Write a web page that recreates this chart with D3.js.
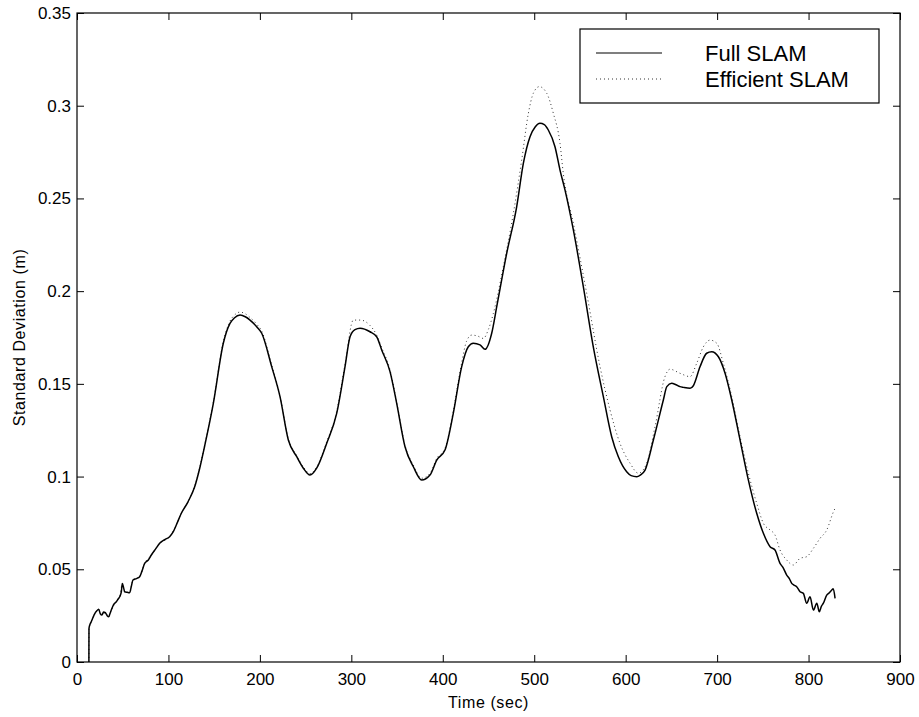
<!DOCTYPE html>
<html lang="en">
<head>
  <meta charset="UTF-8" />
  <title>Standard Deviation vs Time</title>
  <script src="https://d3js.org/d3.v7.min.js"></script>
  <style>
    body { margin: 0; background: #fff; }
    text { font-family: "Liberation Sans", Arial, Helvetica, sans-serif; fill: #000; }
  </style>
</head>
<body>
  <svg id="chart" width="919" height="717"></svg>

  <script>
    // time (sec) and standard deviation (m)
    const fullTime = [13, 13.1, 14, 15.6, 17.5, 19.3, 21.5, 23.7, 25.5, 27.3, 29, 31, 33, 34.6, 36, 37.5, 40, 43, 45, 46.7, 48.5, 49.6, 51, 52.1, 55, 57.6, 59.5, 61.2, 65, 68.5, 71, 74, 78, 81.3, 86, 90.4, 96, 101.3, 105, 108.6, 114.1, 121.4, 128.7, 134.2, 139.6, 149.1, 160, 167.3, 172, 178.3, 184, 189.2, 196.5, 202, 212.9, 222, 231.1, 240.3, 247.5, 254.8, 262.1, 273.1, 284, 293.1, 298.6, 304, 309.5, 320.4, 327.7, 333.2, 342.3, 349.6, 358.7, 367.8, 376.9, 386, 393.4, 402.4, 411.5, 420.7, 427.9, 433.4, 440.7, 446.2, 453.5, 459, 469.9, 480.8, 488.1, 495.4, 501, 506.3, 511, 515.4, 522.7, 528.2, 533.7, 542.8, 553.7, 564.6, 575.6, 584.7, 592, 601.1, 606, 612.1, 616, 621.2, 630.3, 641.2, 645, 650.3, 655, 659.4, 663.1, 670.4, 674, 681.3, 688.6, 694.1, 701.4, 708.7, 716, 725.1, 734.2, 743.3, 750.6, 757.9, 763.3, 768.8, 772, 776.1, 779, 781.6, 784, 787, 790.7, 794.3, 798, 801.6, 805.3, 809, 811.8, 814, 816.2, 819.9, 822, 825.4, 827, 829];
    const fullSlam = [0, 0.018, 0.02, 0.0217, 0.024, 0.026, 0.0275, 0.0284, 0.026, 0.0253, 0.027, 0.0266, 0.025, 0.0244, 0.026, 0.028, 0.031, 0.0325, 0.034, 0.0352, 0.038, 0.0424, 0.04, 0.0379, 0.0376, 0.0374, 0.041, 0.0442, 0.045, 0.046, 0.049, 0.0532, 0.055, 0.0577, 0.061, 0.064, 0.066, 0.0676, 0.07, 0.0739, 0.0802, 0.0864, 0.0945, 0.1045, 0.1165, 0.1395, 0.1719, 0.1826, 0.1855, 0.1871, 0.1862, 0.1844, 0.1808, 0.1773, 0.1593, 0.1431, 0.1197, 0.1107, 0.1045, 0.1008, 0.1045, 0.118, 0.1341, 0.1593, 0.1754, 0.1792, 0.18, 0.1781, 0.1754, 0.1683, 0.1566, 0.1395, 0.1161, 0.1053, 0.0981, 0.1008, 0.1089, 0.1143, 0.1341, 0.1593, 0.17, 0.1719, 0.171, 0.1686, 0.1773, 0.1916, 0.2204, 0.2455, 0.2689, 0.2833, 0.2885, 0.2905, 0.2898, 0.2869, 0.2779, 0.2653, 0.2545, 0.233, 0.2024, 0.17, 0.1431, 0.1215, 0.1107, 0.1026, 0.1005, 0.0999, 0.1008, 0.1035, 0.1197, 0.1413, 0.1485, 0.1503, 0.1495, 0.1485, 0.1481, 0.1476, 0.149, 0.1592, 0.1665, 0.1673, 0.1646, 0.1557, 0.1413, 0.1197, 0.0981, 0.0802, 0.0694, 0.0622, 0.0604, 0.0532, 0.051, 0.0469, 0.045, 0.0424, 0.0415, 0.0406, 0.0379, 0.037, 0.0317, 0.0352, 0.028, 0.0317, 0.0271, 0.03, 0.0317, 0.0361, 0.037, 0.0388, 0.0395, 0.0343];

    const effTime = [13, 13.1, 15.6, 19.3, 23.7, 27.3, 31, 34.6, 37.5, 43, 46.7, 49.6, 52.1, 57.6, 61.2, 68.5, 74, 81.3, 90.4, 101.3, 108.6, 114.1, 121.4, 128.7, 134.2, 139.6, 149.1, 160, 167.3, 172, 178.3, 184, 189.2, 196.5, 202, 212.9, 222, 231.1, 240.3, 247.5, 254.8, 262.1, 273.1, 284, 293.1, 302.2, 310, 320.4, 327.7, 333.2, 342.3, 349.6, 358.7, 367.8, 376.9, 386, 393.4, 402.4, 411.5, 420.7, 426, 431.6, 438, 444.4, 450, 455.3, 466.2, 477.2, 486.3, 493.6, 499, 505.6, 513.7, 520.9, 528.2, 531.8, 542.8, 557.4, 572, 582.9, 593.8, 604.8, 613.9, 623, 632.1, 643, 648.5, 659.4, 670.4, 677.7, 685, 692.3, 699.6, 706.8, 716, 725.1, 734.2, 743.3, 750.6, 757.9, 763.3, 768.8, 776.1, 783.4, 790.7, 798, 805.3, 812.6, 819.9, 827.2, 829];
    const efficientSlam = [0, 0.018, 0.0217, 0.026, 0.0284, 0.0253, 0.0266, 0.0244, 0.028, 0.0325, 0.0352, 0.0424, 0.0379, 0.0374, 0.0442, 0.046, 0.0532, 0.0577, 0.064, 0.0676, 0.0739, 0.0802, 0.0864, 0.0948, 0.1048, 0.117, 0.1402, 0.1728, 0.1838, 0.187, 0.1887, 0.1878, 0.1858, 0.1822, 0.1785, 0.1602, 0.1437, 0.1203, 0.1112, 0.1052, 0.1016, 0.1052, 0.1188, 0.1352, 0.1605, 0.1844, 0.1844, 0.1815, 0.1763, 0.1695, 0.1575, 0.1402, 0.1168, 0.1062, 0.0991, 0.1017, 0.1098, 0.1152, 0.1355, 0.1615, 0.173, 0.1763, 0.1758, 0.1745, 0.1795, 0.188, 0.2132, 0.242, 0.2707, 0.2959, 0.3067, 0.3103, 0.3067, 0.2959, 0.2797, 0.2635, 0.2366, 0.1988, 0.1592, 0.1359, 0.1179, 0.1072, 0.1018, 0.1072, 0.1269, 0.1539, 0.1579, 0.1557, 0.1539, 0.1611, 0.17, 0.1736, 0.1719, 0.1611, 0.1431, 0.1215, 0.1018, 0.0856, 0.0748, 0.0712, 0.0685, 0.0604, 0.055, 0.0523, 0.0559, 0.0568, 0.0613, 0.0667, 0.0712, 0.081, 0.0829];

    const xTicks = [0, 100, 200, 300, 400, 500, 600, 700, 800, 900];
    const yTicks = [0, 0.05, 0.1, 0.15, 0.2, 0.25, 0.3, 0.35];
    const yTickLabels = ["0", "0.05", "0.1", "0.15", "0.2", "0.25", "0.3", "0.35"];
    const seriesNames = ["Full SLAM", "Efficient SLAM"];

    const margin = { left: 77, top: 13, right: 19, bottom: 55 };
    const svg = d3.select("#chart"),
      width = +svg.attr("width") - margin.left - margin.right,
      height = +svg.attr("height") - margin.top - margin.bottom;

    const g = svg.append("g").attr("transform", `translate(${margin.left},${margin.top})`);

    const x = d3.scaleLinear().domain([0, 900]).range([0, width]);
    const y = d3.scaleLinear().domain([0, 0.35]).range([height, 0]);

    // ticks point inwards on all four sides
    const tickLen = 7;
    const styleAxis = (sel) => {
      sel.select(".domain").remove();
      sel.selectAll(".tick line").attr("stroke", "#000").attr("stroke-width", 1);
      sel.selectAll(".tick text").style("font-size", "17px").attr("fill", "#000");
    };

    g.append("g")
      .attr("transform", `translate(0,${height})`)
      .call(d3.axisBottom(x).tickValues(xTicks).tickFormat(d3.format("d"))
        .tickSizeInner(-tickLen).tickSizeOuter(0).tickPadding(11))
      .call(styleAxis);

    g.append("g")
      .call(d3.axisTop(x).tickValues(xTicks).tickFormat("")
        .tickSizeInner(-tickLen).tickSizeOuter(0))
      .call(styleAxis);

    g.append("g")
      .call(d3.axisLeft(y).tickValues(yTicks).tickFormat((d, i) => yTickLabels[i])
        .tickSizeInner(-tickLen).tickSizeOuter(0).tickPadding(6))
      .call(styleAxis);

    g.append("g")
      .attr("transform", `translate(${width},0)`)
      .call(d3.axisRight(y).tickValues(yTicks).tickFormat("")
        .tickSizeInner(-tickLen).tickSizeOuter(0))
      .call(styleAxis);

    g.append("rect")
      .attr("width", width)
      .attr("height", height)
      .attr("fill", "none")
      .attr("stroke", "#000")
      .attr("stroke-width", 1.2);

    const line = d3.line()
      .curve(d3.curveMonotoneX)
      .x((d) => x(d[0]))
      .y((d) => y(d[1]));

    g.append("path")
      .datum(effTime.map((t, i) => [t, efficientSlam[i]]))
      .attr("fill", "none")
      .attr("stroke", "#333")
      .attr("stroke-width", 1)
      .attr("stroke-dasharray", "1,3")
      .attr("d", line);

    g.append("path")
      .datum(fullTime.map((t, i) => [t, fullSlam[i]]))
      .attr("fill", "none")
      .attr("stroke", "#000")
      .attr("stroke-width", 1.5)
      .attr("stroke-linejoin", "round")
      .attr("d", line);

    // axis titles
    svg.append("text")
      .attr("x", margin.left + width / 2)
      .attr("y", 708)
      .attr("text-anchor", "middle")
      .style("font-size", "16px")
      .style("letter-spacing", "0.6px")
      .text("Time (sec)");

    svg.append("text")
      .attr("transform", `translate(25,${margin.top + height / 2}) rotate(-90)`)
      .attr("text-anchor", "middle")
      .style("font-size", "16px")
      .style("letter-spacing", "0.6px")
      .text("Standard Deviation (m)");

    // legend
    const legend = svg.append("g").attr("transform", "translate(580,29)");
    legend.append("rect")
      .attr("width", 299)
      .attr("height", 74)
      .attr("fill", "#fff")
      .attr("stroke", "#000")
      .attr("stroke-width", 1.2);

    const legendStyles = [
      { stroke: "#000", width: 1.2, dash: null },
      { stroke: "#333", width: 1, dash: "1,3" }
    ];
    seriesNames.forEach((name, i) => {
      const ly = 24 + i * 26;
      legend.append("line")
        .attr("x1", 16).attr("x2", 82)
        .attr("y1", ly).attr("y2", ly)
        .attr("stroke", legendStyles[i].stroke)
        .attr("stroke-width", legendStyles[i].width)
        .attr("stroke-dasharray", legendStyles[i].dash);
      legend.append("text")
        .attr("x", 125)
        .attr("y", ly + 8)
        .style("font-size", "22px")
        .text(name);
    });
  </script>
</body>
</html>
